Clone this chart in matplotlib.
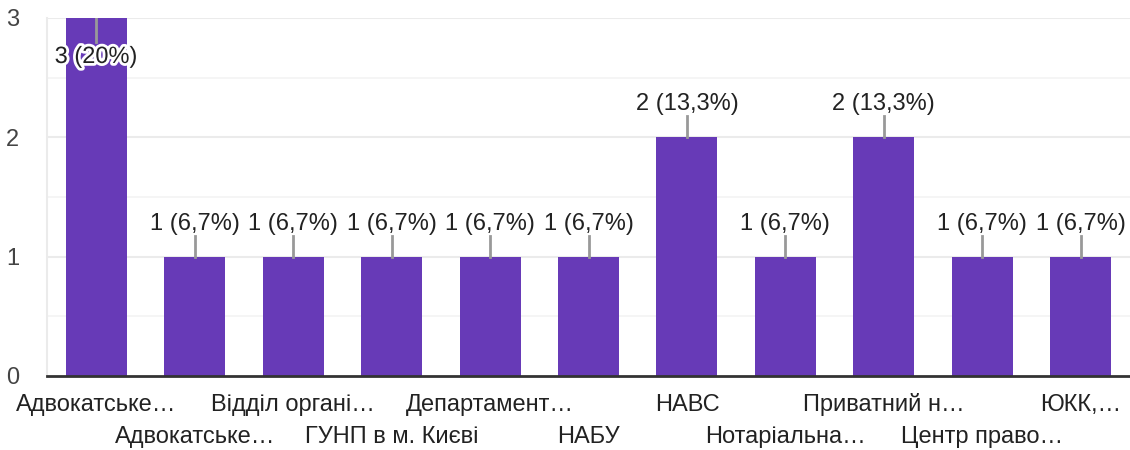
import numpy as np
import matplotlib.pyplot as plt
import matplotlib.patheffects as pe

plt.rcParams['font.family'] = ['Liberation Sans', 'DejaVu Sans']

# Categories (as shown, truncated) and counts
labels = ["Адвокатське…", "Адвокатське…", "Відділ органі…", "ГУНП в м. Києві",
          "Департамент…", "НАБУ", "НАВС", "Нотаріальна…", "Приватний н…",
          "Центр право…", "ЮКК,…"]
counts = [3, 1, 1, 1, 1, 1, 2, 1, 2, 1, 1]
total = sum(counts)

bar_color = "#673ab7"
text_color = "#222222"
fs = 17

fig = plt.figure(figsize=(11.3, 4.5), dpi=100)
ax = fig.add_axes([47/1130, 74/450, 1083/1130, 358/450])

x = np.arange(len(counts))
ax.bar(x, counts, width=0.62, color=bar_color, zorder=3)

ax.set_xlim(-0.5, len(counts) - 0.5)
ax.set_ylim(0, 3)

# grid: major and half steps
for y in [1, 2, 3]:
    ax.axhline(y, color="#ebebeb", lw=1.5, zorder=1)
for y in [0.5, 1.5, 2.5]:
    ax.axhline(y, color="#f3f3f3", lw=1.2, zorder=1)

for s in ["top", "right"]:
    ax.spines[s].set_visible(False)
ax.spines["left"].set_color("#ebebeb")
ax.spines["left"].set_linewidth(1.5)
ax.spines["bottom"].set_color("#333333")
ax.spines["bottom"].set_linewidth(2)
ax.spines["bottom"].set_zorder(4)

ax.set_yticks([0, 1, 2, 3])
ax.tick_params(axis="y", length=0, labelsize=fs, labelcolor="#444444", pad=20)
ax.tick_params(axis="x", length=0)
ax.set_xticks([])

# two-row category labels
for i, lab in enumerate(labels):
    off = -29 if i % 2 == 0 else -61
    ax.annotate(lab, (i, 0), xytext=(0, off), textcoords="offset pixels",
                ha="center", va="center", fontsize=fs, color=text_color,
                annotation_clip=False)

# value labels with leader lines
for i, c in enumerate(counts):
    pct = c / total * 100
    pct_s = f"{pct:.1f}".replace(".", ",")
    if pct_s.endswith(",0"):
        pct_s = pct_s[:-2]
    txt = f"{c} ({pct_s}%)"
    if c == max(counts):
        # no room above: put label inside the bar
        ax.plot([i, i], [c, c - 24/119.3], color="#999999", lw=2, zorder=5)
        ax.annotate(txt, (i, c), xytext=(0, -39), textcoords="offset pixels",
                    ha="center", va="center", fontsize=fs, color=text_color,
                    zorder=6,
                    path_effects=[pe.withStroke(linewidth=4, foreground="white")])
    else:
        ax.plot([i, i], [c, c + 21/119.3], color="#999999", lw=2, zorder=5,
                clip_on=False)
        ax.annotate(txt, (i, c), xytext=(0, 33), textcoords="offset pixels",
                    ha="center", va="center", fontsize=fs, color=text_color,
                    annotation_clip=False)

fig.savefig("out.png", dpi=100)
